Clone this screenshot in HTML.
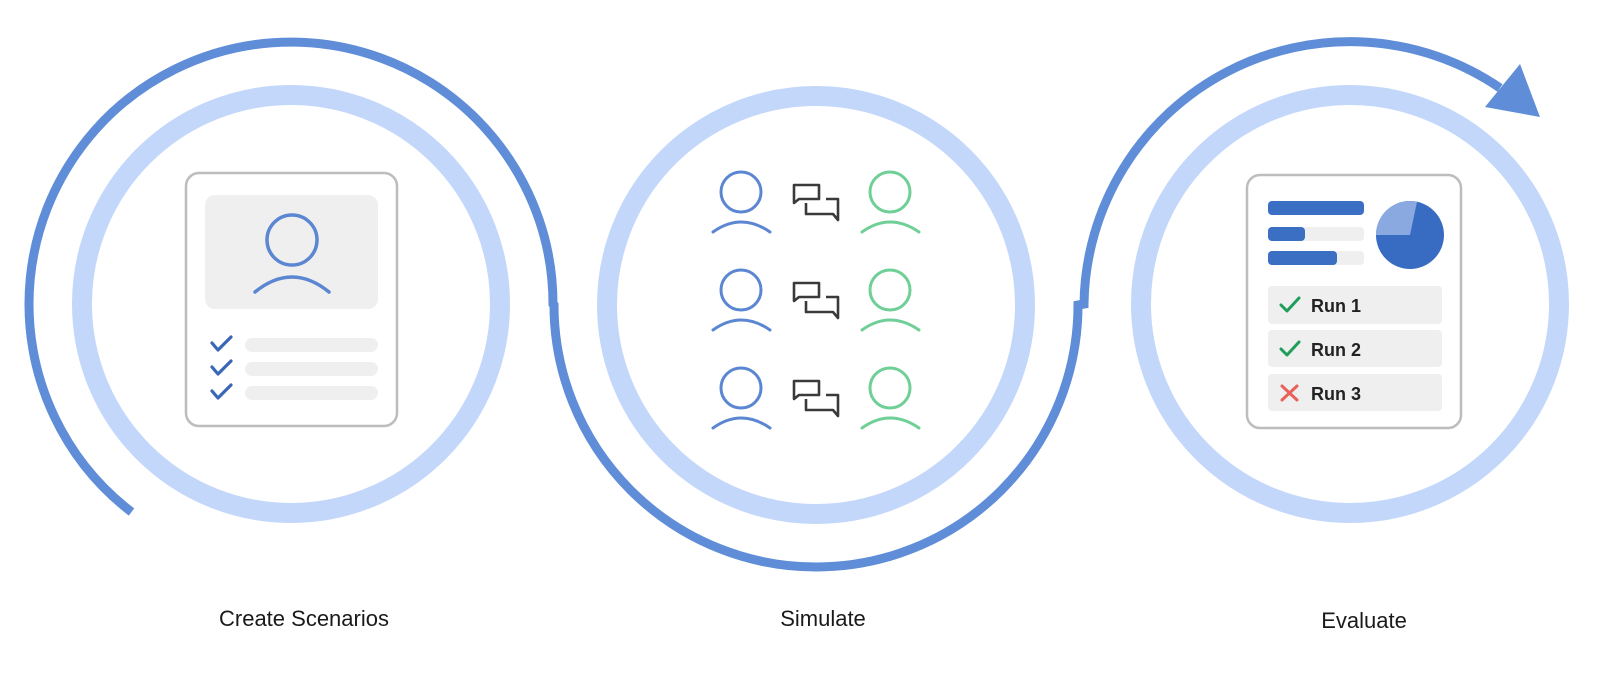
<!DOCTYPE html>
<html><head><meta charset="utf-8"><style>
html,body{margin:0;padding:0;background:#fff;}
svg{display:block;}
text{font-family:"Liberation Sans",Arial,sans-serif;}
</style></head><body>
<svg width="1598" height="676" viewBox="0 0 1598 676" xmlns="http://www.w3.org/2000/svg">
<!-- light circles -->
<g fill="none" stroke="#c3d7fb" stroke-width="20">
<circle cx="291" cy="304" r="209"/>
<circle cx="816" cy="305" r="209"/>
<circle cx="1350" cy="304" r="209"/>
</g>
<!-- dark path -->
<path d="M131.5,512 A262,262 0 1 1 553,304 L554,305 A262,262 0 0 0 1078,305 L1084,304 A266,266 0 0 1 1500,88" fill="none" stroke="#5f8dd8" stroke-width="9"/>
<polygon points="1540,117 1520,64 1485,107" fill="#5f8dd8"/>

<!-- card 1 -->
<rect x="186" y="173" width="211" height="253" rx="13" fill="#fff" stroke="#bdbdbd" stroke-width="2.5"/>
<rect x="205" y="195" width="173" height="114" rx="10" fill="#efefef"/>
<g fill="none" stroke="#5b86d1" stroke-width="3.5" stroke-linecap="round">
<circle cx="292" cy="240" r="25"/>
<path d="M255,292 Q292,262 329,292"/>
</g>
<g fill="none" stroke="#3a66b8" stroke-width="3.2" stroke-linecap="round" stroke-linejoin="round">
<path d="M212,343 L218,350 L231,337"/>
<path d="M212,367 L218,374 L231,361"/>
<path d="M212,391 L218,398 L231,385"/>
</g>
<g fill="#efefef">
<rect x="245" y="338" width="133" height="14" rx="7"/>
<rect x="245" y="362" width="133" height="14" rx="7"/>
<rect x="245" y="386" width="133" height="14" rx="7"/>
</g>

<!-- card 2 people -->
<g fill="none" stroke-width="3" stroke-linecap="round">
<g stroke="#5b86d1">
<circle cx="741" cy="192" r="20"/><path d="M713,232 Q741,212 770,232"/>
<circle cx="741" cy="290" r="20"/><path d="M713,330 Q741,310 770,330"/>
<circle cx="741" cy="388" r="20"/><path d="M713,428 Q741,408 770,428"/>
</g>
<g stroke="#6fcf97">
<circle cx="890" cy="192" r="20"/><path d="M862,232 Q890,212 919,232"/>
<circle cx="890" cy="290" r="20"/><path d="M862,330 Q890,310 919,330"/>
<circle cx="890" cy="388" r="20"/><path d="M862,428 Q890,408 919,428"/>
</g>
</g>
<g fill="none" stroke="#3a3a3a" stroke-width="2.6" stroke-linejoin="round">
<g id="chat">
<path d="M794,203 L794,185 L819,185 L819,199 L799,199 Z"/>
<path d="M806,203 L806,214 L833,214 L838,220 L838,199 L826,199"/>
</g>
<use href="#chat" y="98"/>
<use href="#chat" y="196"/>
</g>

<!-- card 3 -->
<rect x="1247" y="175" width="214" height="253" rx="13" fill="#fff" stroke="#bdbdbd" stroke-width="2.5"/>
<rect x="1268" y="201" width="96" height="14" rx="4" fill="#3a6fc4"/>
<rect x="1268" y="227" width="96" height="14" rx="4" fill="#efefef"/>
<rect x="1268" y="227" width="37" height="14" rx="4" fill="#3a6fc4"/>
<rect x="1268" y="251" width="96" height="14" rx="4" fill="#efefef"/>
<rect x="1268" y="251" width="69" height="14" rx="4" fill="#3a6fc4"/>
<circle cx="1410" cy="235" r="34" fill="#386cc2"/>
<path d="M1410,235 L1376,235 A34,34 0 0 1 1417,201.7 Z" fill="#8aa9e0"/>
<g fill="#efefef">
<rect x="1268" y="286" width="174" height="38" rx="4"/>
<rect x="1268" y="330" width="174" height="37" rx="4"/>
<rect x="1268" y="374" width="174" height="37" rx="4"/>
</g>
<g fill="none" stroke-width="3" stroke-linecap="round" stroke-linejoin="round">
<path d="M1281,305 L1287,311 L1299,298" stroke="#1e9e5a"/>
<path d="M1281,349 L1287,355 L1299,342" stroke="#1e9e5a"/>
<path d="M1282,386 L1297,400 M1297,386 L1282,400" stroke="#e8625a"/>
</g>
<g font-size="18" fill="#222" font-weight="bold">
<text x="1311" y="312">Run 1</text>
<text x="1311" y="356">Run 2</text>
<text x="1311" y="400">Run 3</text>
</g>

<!-- labels -->
<g font-size="22" fill="#1a1a1a" text-anchor="middle">
<text x="304" y="626">Create Scenarios</text>
<text x="823" y="626">Simulate</text>
<text x="1364" y="628">Evaluate</text>
</g>
</svg>
</body></html>
